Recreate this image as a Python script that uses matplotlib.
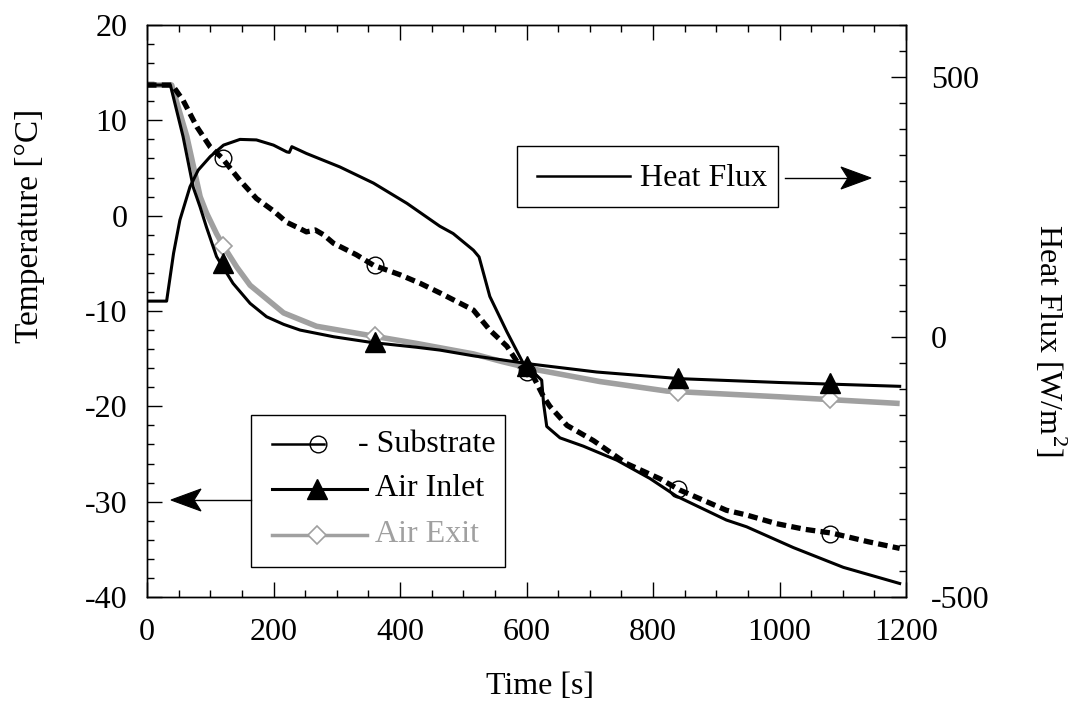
import numpy as np
import matplotlib
matplotlib.use("Agg")
import matplotlib.pyplot as plt
from matplotlib.lines import Line2D
from matplotlib.patches import Rectangle, Polygon
from matplotlib.ticker import MultipleLocator

plt.rcParams['font.family'] = ['Liberation Serif', 'DejaVu Serif']
plt.rcParams['mathtext.fontset'] = 'custom'
plt.rcParams['mathtext.rm'] = 'Liberation Serif'
plt.rcParams['axes.unicode_minus'] = False

# Substrate temperature [C]
t_sub = [0, 40, 57, 79, 100, 118, 147, 173, 200, 221, 240, 252, 266, 279, 295, 331, 358,
         400, 432, 463, 516, 542, 569, 590, 611, 627, 637, 664, 706, 758, 811, 843, 916,
         948, 995, 1040, 1083, 1140, 1190]
T_sub = [13.7, 13.7, 12.1, 9.3, 7.2, 6.1, 3.7, 1.8, 0.5, -0.7, -1.3, -1.7, -1.5, -2.0, -2.9,
         -4.1, -5.2, -6.2, -7.1, -8.1, -9.9, -12.0, -13.7, -15.8, -16.9, -19.0, -20.0, -22.0,
         -23.6, -26.0, -27.6, -28.8, -30.9, -31.4, -32.3, -32.9, -33.3, -34.2, -34.9]

# Air inlet temperature [C]
t_in = [0, 37, 57, 73, 84, 94, 110, 136, 163, 189, 216, 242, 295, 355, 426, 463, 516, 569,
        611, 711, 843, 1000, 1190]
T_in = [13.7, 13.7, 8.3, 3.0, 0.9, -1.2, -4.3, -7.1, -9.2, -10.6, -11.4, -12.0, -12.7, -13.3,
        -13.8, -14.1, -14.7, -15.2, -15.6, -16.4, -17.1, -17.5, -17.9]

# Air exit temperature [C]
t_out = [0, 39, 63, 84, 94, 110, 121, 142, 163, 216, 268, 355, 426, 516, 561, 611, 716, 822,
         1000, 1190]
T_out = [13.7, 13.7, 8.3, 2.0, 0.3, -1.9, -3.2, -5.4, -7.3, -10.2, -11.6, -12.6, -13.4, -14.5,
         -15.3, -16.1, -17.4, -18.4, -19.0, -19.7]

# Heat flux [W/m2]
t_hf = [0, 31, 42, 52, 68, 81, 100, 121, 147, 173, 200, 221, 225, 229, 252, 305, 358, 411,
        463, 484, 516, 525, 542, 569, 595, 611, 624, 627, 632, 653, 690, 743, 795, 837, 916,
        948, 1022, 1101, 1190]
q_hf = [69, 69, 161, 225, 289, 321, 347, 369, 380, 379, 369, 356, 355, 366, 353, 327, 296,
        257, 213, 199, 167, 154, 78, 10, -51, -68, -83, -128, -172, -194, -210, -237, -272,
        -306, -352, -365, -405, -443, -474]

# marker positions
t_mark = [120, 360, 600, 840, 1080]
T_sub_mark = [6.1, -5.2, -16.4, -28.7, -33.4]
T_in_mark = [-5.0, -13.3, -15.8, -17.0, -17.6]
T_out_mark = [-3.2, -12.6, -16.0, -18.5, -19.2]

W, H = 1077, 704
GRAY = '#a0a0a0'
FS = 23

fig = plt.figure(figsize=(W / 100, H / 100), dpi=100)
ax = fig.add_axes([147 / W, 1 - 597 / H, (906 - 147) / W, (597 - 25) / H])
ax2 = ax.twinx()

ax.plot(t_out, T_out, color=GRAY, lw=4, solid_capstyle='butt', zorder=2)
ax.plot(t_mark, T_out_mark, ls='none', marker='D', ms=9, mfc='white', mec=GRAY, mew=1.2, zorder=3)
ax.plot(t_in, T_in, color='black', lw=2.2, zorder=4)
ax.plot(t_mark, T_in_mark, ls='none', marker='^', ms=14, color='black', zorder=5)
ax.plot(t_sub, T_sub, color='black', lw=3.8, dashes=[1.8, 1.0], zorder=4)
ax.plot(t_mark, T_sub_mark, ls='none', marker='o', ms=12, mfc='none', mec='black', mew=1.0, zorder=5)
ax2.plot(t_hf, q_hf, color='black', lw=2.2, zorder=4)

ax.set_xlim(0, 1200)
ax.set_ylim(-40, 20)
ax2.set_ylim(-500, 600)

ax.xaxis.set_major_locator(MultipleLocator(200))
ax.xaxis.set_minor_locator(MultipleLocator(50))
ax.yaxis.set_major_locator(MultipleLocator(10))
ax.yaxis.set_minor_locator(MultipleLocator(2))
ax2.yaxis.set_major_locator(MultipleLocator(500))
ax2.yaxis.set_minor_locator(MultipleLocator(50))

ax.tick_params(which='both', direction='in', top=True, right=False, labelsize=FS, width=1.0)
ax.tick_params(which='major', length=11, pad=14)
ax.tick_params(which='minor', length=5)
ax.tick_params(axis='x', which='major', pad=15)
ax2.tick_params(which='both', direction='in', labelsize=FS, width=1.0)
ax2.tick_params(which='major', length=11, pad=18)
ax2.tick_params(which='minor', length=5)
for a in (ax, ax2):
    for s in a.spines.values():
        s.set_linewidth(1.0)

fig.text(30 / W, 1 - 226 / H, 'Temperature [°C]', rotation=90, ha='center', va='center', fontsize=24)
fig.text(1050 / W, 1 - 340 / H, 'Heat Flux [W/m$^2$]', rotation=270, ha='center', va='center', fontsize=23)
fig.text(540 / W, 1 - 687 / H, 'Time [s]', ha='center', va='center', fontsize=FS)


def P(x, y):
    return (x / W, 1 - y / H)


tf = fig.transFigure


def arrow(x0, x1, y):
    # shaft plus a notched, filled head pointing from x0 to x1
    d = 1 if x1 > x0 else -1
    L, hw, notch = 30, 11, 7
    fig.add_artist(Line2D([x0 / W, (x1 - d * (L - notch)) / W], [1 - y / H] * 2,
                          transform=tf, color='black', lw=1.0, zorder=7))
    pts = [P(x1, y), P(x1 - d * L, y - hw), P(x1 - d * (L - notch), y), P(x1 - d * L, y + hw)]
    fig.add_artist(Polygon(pts, closed=True, transform=tf, facecolor='black', edgecolor='black', lw=0.8, zorder=7))


# heat flux legend box
fig.add_artist(Rectangle(P(517, 207), (778 - 517) / W, (207 - 146) / H, transform=tf,
                         fill=True, facecolor='white', edgecolor='black', lw=1.0, zorder=6))
fig.add_artist(Line2D([537 / W, 630 / W], [1 - 176 / H] * 2, transform=tf, color='black', lw=1.8, zorder=7))
fig.text(640 / W, 1 - 178 / H, 'Heat Flux', ha='left', va='center', fontsize=FS, zorder=7)
arrow(785, 871, 178)

# temperature legend box
fig.add_artist(Rectangle(P(251, 567), (505 - 251) / W, (567 - 415) / H, transform=tf,
                         fill=True, facecolor='white', edgecolor='black', lw=1.0, zorder=6))
arrow(251, 171, 500)
rows = [444, 489, 535]
fig.add_artist(Line2D([272 / W, 324 / W], [1 - rows[0] / H] * 2, transform=tf, color='black', lw=1.8, zorder=7))
fig.add_artist(Line2D([318 / W], [1 - rows[0] / H], transform=tf, ls='none', marker='o', ms=12,
                      mfc='none', mec='black', mew=1.0, zorder=8))
fig.text(358 / W, 1 - rows[0] / H, '- Substrate', ha='left', va='center', fontsize=FS, zorder=7)
fig.add_artist(Line2D([272 / W, 367 / W], [1 - rows[1] / H] * 2, transform=tf, color='black', lw=2.2, zorder=7))
fig.add_artist(Line2D([317 / W], [1 - rows[1] / H], transform=tf, ls='none', marker='^', ms=14,
                      color='black', zorder=8))
fig.text(375 / W, 1 - rows[1] / H, 'Air Inlet', ha='left', va='center', fontsize=FS, zorder=7)
fig.add_artist(Line2D([272 / W, 367 / W], [1 - rows[2] / H] * 2, transform=tf, color=GRAY, lw=2.5, zorder=7))
fig.add_artist(Line2D([317 / W], [1 - rows[2] / H], transform=tf, ls='none', marker='D', ms=9,
                      mfc='white', mec=GRAY, mew=1.2, zorder=8))
fig.text(375 / W, 1 - rows[2] / H, 'Air Exit', ha='left', va='center', fontsize=FS, color=GRAY, zorder=7)

fig.savefig('out.png', dpi=100)
